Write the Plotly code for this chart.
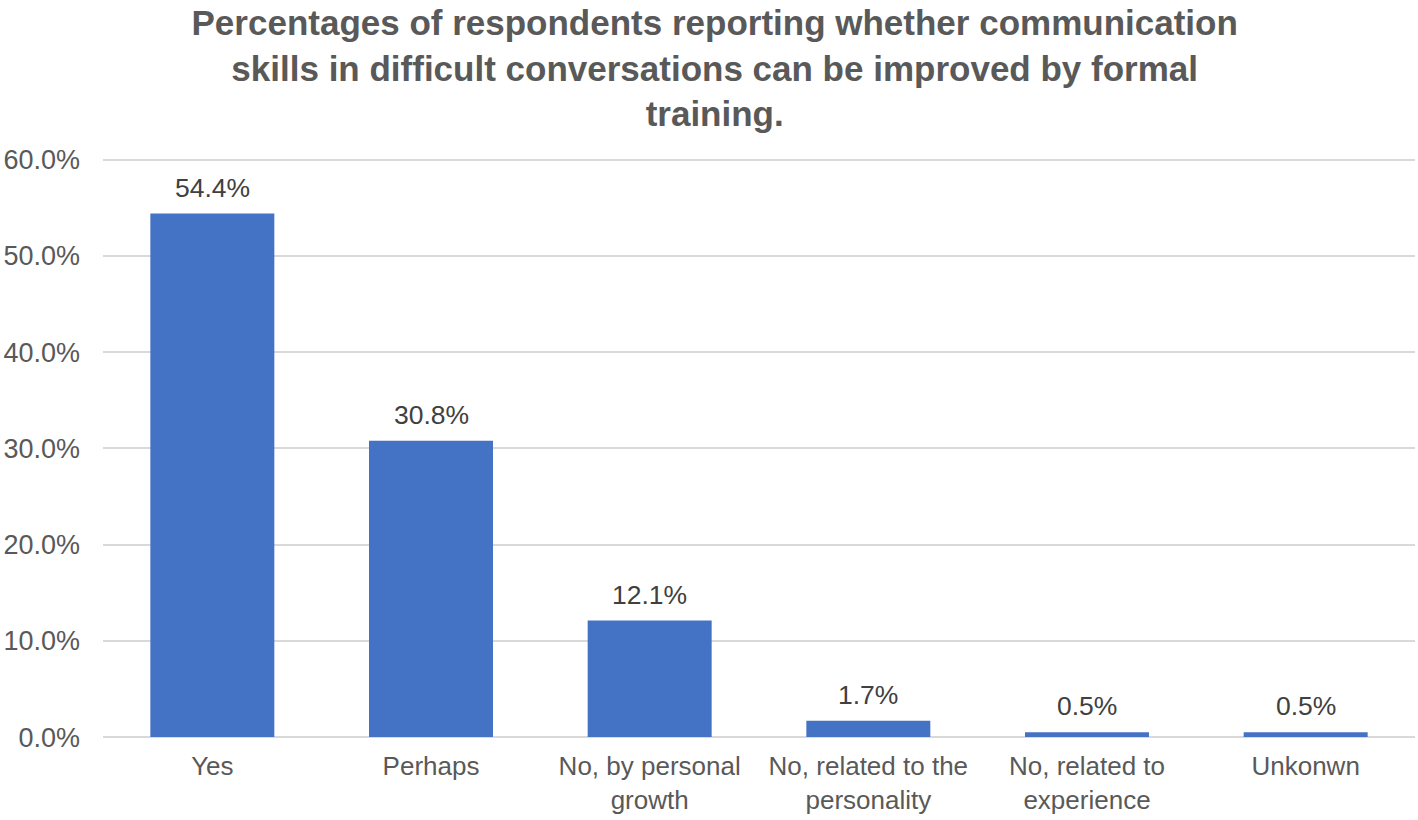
import plotly.graph_objects as go

categories = ["Yes", "Perhaps", "No, by personal<br>growth", "No, related to the<br>personality",
              "No, related to<br>experience", "Unkonwn"]
values = [54.4, 30.8, 12.1, 1.7, 0.5, 0.5]
labels = ["54.4%", "30.8%", "12.1%", "1.7%", "0.5%", "0.5%"]
y_ticks = [0, 10, 20, 30, 40, 50, 60]
y_tick_labels = ["0.0%", "10.0%", "20.0%", "30.0%", "40.0%", "50.0%", "60.0%"]

FONT = "Liberation Sans, Arial, sans-serif"

fig = go.Figure()
fig.add_trace(go.Bar(x=categories, y=values, marker=dict(color="#4472c4", line=dict(width=0)),
                     hoverinfo="skip"))

for c, v, t in zip(categories, values, labels):
    fig.add_annotation(x=c, y=v, text=t, showarrow=False, yanchor="bottom", yshift=9,
                       font=dict(family=FONT, size=26.5, color="#404040"))

fig.update_layout(
    width=1418, height=820,
    paper_bgcolor="white", plot_bgcolor="white",
    margin=dict(l=103, r=3, t=150, b=81),
    bargap=0.433,
    showlegend=False,
    title=dict(
        text="Percentages of respondents reporting whether communication<br>skills in difficult conversations can be improved by formal<br>training.",
        xref="container", x=0.504, xanchor="center",
        yref="container", y=0.957, yanchor="top",
        font=dict(family=FONT, size=35, color="#595959", weight="bold"),
    ),
    xaxis=dict(
        showgrid=False, showline=False, zeroline=False, automargin=False,
        tickfont=dict(family=FONT, size=26, color="#595959"),
        ticklabelstandoff=9,
    ),
    yaxis=dict(
        range=[-0.2, 61], tickvals=y_ticks, ticktext=y_tick_labels, automargin=False,
        showgrid=True, gridcolor="#d9d9d9", gridwidth=2,
        zeroline=True, zerolinecolor="#d9d9d9", zerolinewidth=2, showline=False,
        tickfont=dict(family=FONT, size=27, color="#595959"),
        ticklabelstandoff=22,
    ),
)

fig.write_html("out.html", config={"displayModeBar": False},
               post_script="document.body.style.margin='0';document.body.style.overflow='hidden';")
